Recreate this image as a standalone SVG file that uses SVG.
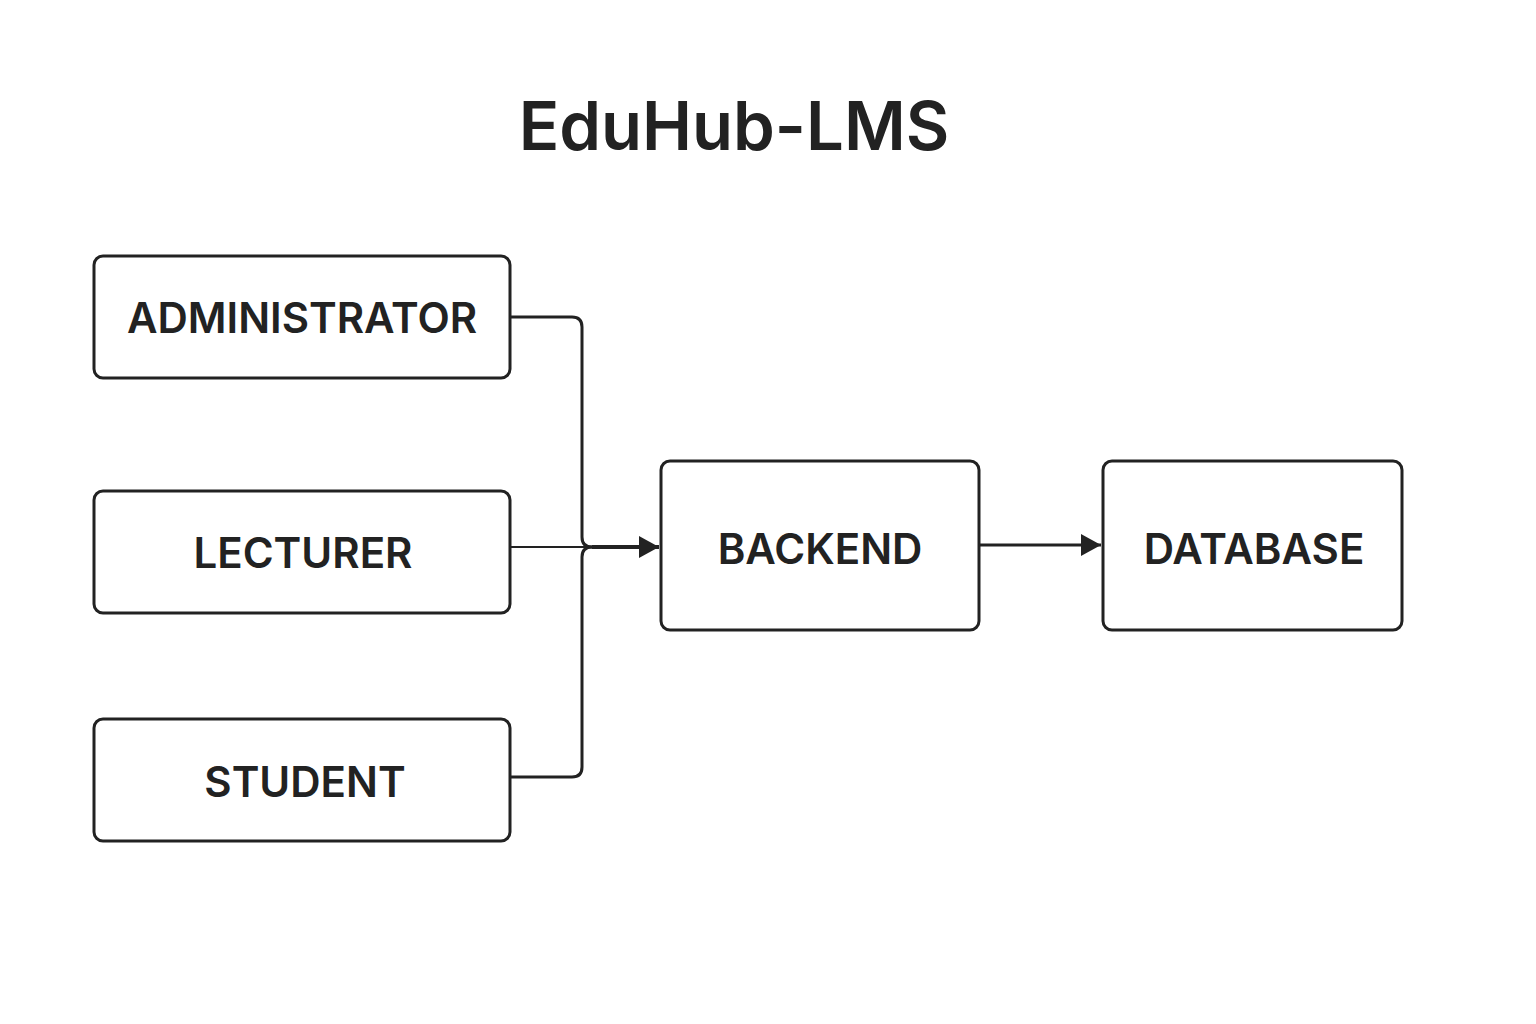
<svg xmlns="http://www.w3.org/2000/svg" width="1536" height="1024" viewBox="0 0 1536 1024">
<style>
.box{fill:#fff;stroke:#222;stroke-width:3}
.lbl{font-family:Inter,"Noto Sans",sans-serif;font-weight:600;font-size:42px;fill:#222;text-anchor:middle}
.title{font-family:Inter,"Noto Sans",sans-serif;font-weight:600;font-size:67px;fill:#222;text-anchor:middle}
.conn{fill:none;stroke:#222;stroke-width:3}
</style>
<defs>
<marker id="arr" viewBox="0 0 10 11" refX="10" refY="5.5" markerWidth="20" markerHeight="22" markerUnits="userSpaceOnUse" orient="auto" preserveAspectRatio="none">
<path d="M0,0 L10,5.5 L0,11 Z" fill="#222"/>
</marker>
</defs>
<rect width="1536" height="1024" fill="#fff"/>
<text class="title" x="734" y="150">EduHub-LMS</text>
<g id="connectors">
<path class="conn" d="M510,317 H572 Q582,317 582,327 V537 Q582,547 592,547 H640"/>
<path class="conn" d="M510,777 H572 Q582,777 582,767 V557 Q582,547 592,547"/>
<path class="conn" style="stroke-width:2" d="M510,547 H640"/>
<path class="conn" style="stroke-width:4" d="M592,547 H659" marker-end="url(#arr)"/>
<path class="conn" d="M979,545 H1101" marker-end="url(#arr)"/>
</g>
<g id="administrator">
<rect class="box" x="94" y="256" width="416" height="122" rx="9"/>
<text class="lbl" x="302" y="333">ADMINISTRATOR</text>
</g>
<g id="lecturer">
<rect class="box" x="94" y="491" width="416" height="122" rx="9"/>
<text class="lbl" x="303" y="568">LECTURER</text>
</g>
<g id="student">
<rect class="box" x="94" y="719" width="416" height="122" rx="9"/>
<text class="lbl" x="305" y="797">STUDENT</text>
</g>
<g id="backend">
<rect class="box" x="661" y="461" width="318" height="169" rx="9"/>
<text class="lbl" x="820" y="564">BACKEND</text>
</g>
<g id="database">
<rect class="box" x="1103" y="461" width="299" height="169" rx="9"/>
<text class="lbl" x="1254" y="564">DATABASE</text>
</g>
</svg>
